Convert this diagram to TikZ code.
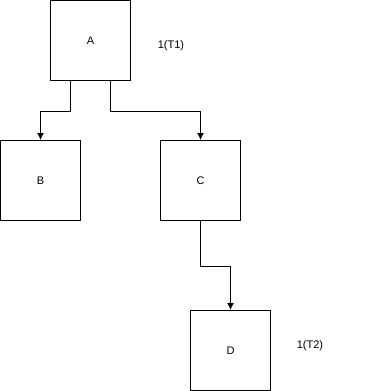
\documentclass[tikz,border=0pt]{standalone}
\usepackage{fontspec}
\setmainfont{Liberation Sans}
\usetikzlibrary{positioning, arrows.meta}
\tikzset{
  arr/.style={-{Latex[length=7pt,width=7pt]}, line width=1pt, draw=black},
  sq/.style={draw=black, line width=1pt, minimum size=80pt, inner sep=0pt, fill=white},
  lab/.style={font=\fontsize{11}{13}\selectfont, inner sep=0pt}
}

\begin{document}
\begin{tikzpicture}[x=1pt, y=-1pt, font=\fontsize{11}{13}\selectfont]
\useasboundingbox (0,0) rectangle (371,391);
\node[sq] (a) at (90.5,40.5) {A};
\node[sq] (b) at (40.5,180.5) {B};
\node[sq] (c) at (200.5,180.5) {C};
\node[sq] (d) at (230.5,350.5) {D};
\node[lab] (t1) at (171,46) {1(T1)};
\node[lab] (t2) at (310,346) {1(T2)};
\draw[arr] ([xshift=-20pt]a.south) |- ++(0,30) -| (b.north);
\draw[arr] ([xshift=20pt]a.south) |- ++(0,30) -| (c.north);
\draw[arr] (c.south) -- ++(0,45) -| (d.north);
\end{tikzpicture}
\end{document}
